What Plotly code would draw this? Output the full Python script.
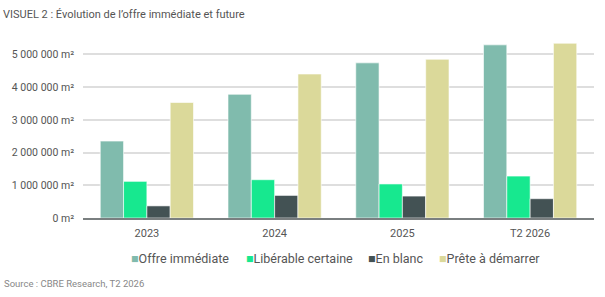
import plotly.graph_objects as go

categories = ["2023", "2024", "2025", "T2 2026"]
offre_immediate = [2350000, 3780000, 4740000, 5290000]
liberable_certaine = [1120000, 1170000, 1040000, 1280000]
en_blanc = [370000, 690000, 670000, 590000]
prete_a_demarrer = [3530000, 4400000, 4850000, 5340000]

series_names = ["Offre immédiate", "Libérable certaine", "En blanc", "Prête à démarrer"]
series_values = [offre_immediate, liberable_certaine, en_blanc, prete_a_demarrer]
series_colors = ["#80BBAD", "#17E88F", "#435254", "#DBD99A"]

y_tickvals = [0, 1000000, 2000000, 3000000, 4000000, 5000000]
y_ticktext = ["0 m²", "1 000 000 m²", "2 000 000 m²", "3 000 000 m²", "4 000 000 m²", "5 000 000 m²"]

title_text = "VISUEL 2 : Évolution de l’offre immédiate et future"
source_text = "Source : CBRE Research, T2 2026"

FONT = "Roboto, Arial, sans-serif"
L, R, T, B = 83, 11, 38, 79
PW, PH = 605 - L - R, 297 - T - B

fig = go.Figure()
for name, vals, col in zip(series_names, series_values, series_colors):
    fig.add_trace(go.Bar(
        x=categories, y=vals, name=name, showlegend=False,
        marker=dict(color=col, line=dict(color="rgba(255,255,255,0.6)", width=1)),
    ))

# custom compact legend
legend_px = [129, 244, 366, 437]
annotations = []
for name, col, px in zip(series_names, series_colors, legend_px):
    annotations.append(dict(
        text=f"<span style='color:{col}'>■</span>{name}",
        xref="paper", yref="paper", x=(px - L) / PW, xanchor="left",
        y=-(258 - 218) / PH, yanchor="middle", showarrow=False,
        font=dict(family=FONT, size=12.5, color="#555555")))
annotations.append(dict(text=source_text, xref="paper", yref="paper",
                        x=(2 - L) / PW, xanchor="left", y=-(283 - 218) / PH, yanchor="middle",
                        showarrow=False, font=dict(family=FONT, size=9.5, color="#888888")))

fig.update_layout(
    width=605, height=297,
    margin=dict(l=L, r=R, t=T, b=B),
    paper_bgcolor="white", plot_bgcolor="white",
    font=dict(family=FONT, color="#555555", size=11),
    barmode="group", bargap=0.27, bargroupgap=0,
    title=dict(text=title_text, x=3/605, xanchor="left", xref="container",
               y=1-14/297, yanchor="middle", yref="container",
               font=dict(family=FONT, size=11, color="#555555")),
    xaxis=dict(showgrid=False, showline=True, linecolor="#7a7f80", linewidth=1.5,
               ticks="", ticklabelstandoff=4, tickfont=dict(size=11, color="#555555")),
    yaxis=dict(range=[0, 5500000], tickvals=y_tickvals, ticktext=y_ticktext,
               showgrid=True, gridcolor="#dedede", gridwidth=1.5, zeroline=False,
               ticks="", ticklabelstandoff=8,
               tickfont=dict(size=10.5, color="#555555")),
    showlegend=False,
    annotations=annotations,
)

fig.write_html("out.html")
